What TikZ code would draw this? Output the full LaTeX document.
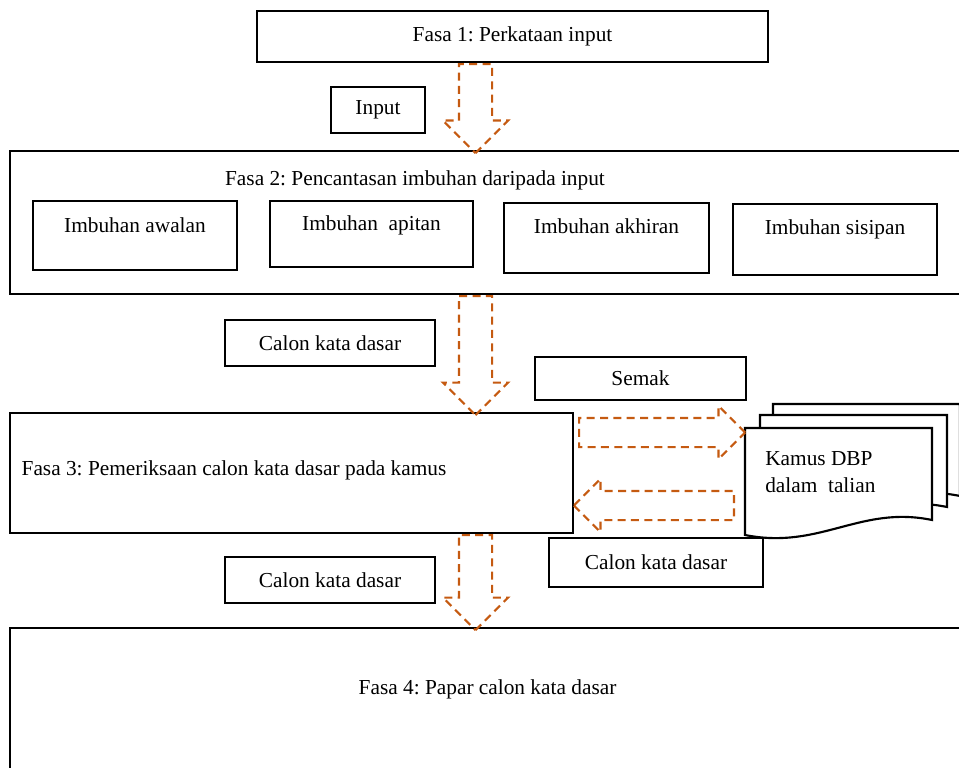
\documentclass[tikz,border=0pt]{standalone}
\usepackage{fontspec}
\setmainfont{Liberation Serif}
\usetikzlibrary{shapes.arrows}
\definecolor{arrorange}{RGB}{197,90,17}
\newcommand{\px}{0.75pt}
\frenchspacing

\begin{document}
\begin{tikzpicture}[x=0.75pt, y=-0.75pt, font=\fontsize{16}{20}\selectfont,
  box/.style={draw=black, line width=1.6pt, inner sep=0pt},
  lbox/.style={draw=black, line width=0.8pt, inner sep=0pt},
  blk/.style={single arrow, anchor=tail, draw=arrorange, line width=1.6pt, dash pattern=on 6pt off 4pt, inner xsep=0pt, single arrow head indent=0pt},
  dn/.style={blk, rotate=-90, minimum height=#1*\px, inner ysep=15.5*\px, single arrow head extend=16*\px},
  hz/.style={blk, minimum height=#1*\px, inner ysep=13.5*\px, single arrow head extend=12*\px}]
\useasboundingbox (0,0) rectangle (959,767);
\node[box, minimum width=511*\px, minimum height=51*\px] (f1) at (512.5,36.5) {Fasa 1: Perkataan input};
\node[lbox, minimum width=94*\px, minimum height=46*\px] (inp) at (378,110) {Input};
\node[box, minimum width=955*\px, minimum height=143*\px] (f2) at (487.5,222.5) {};
\node (f2t) at (415,180) {Fasa 2: Pencantasan imbuhan daripada input};
\foreach \n/\x/\y/\w/\h/\t/\d in {aw/135/235.5/204/69/{Imbuhan awalan}/25,
    ap/371.5/234/203/66/{Imbuhan\ \ apitan}/25,
    ak/606.5/238/205/70/{Imbuhan akhiran}/24,
    si/835/239.5/204/71/{Imbuhan sisipan}/26}
  \node[box, minimum width=\w*\px, minimum height=\h*\px, label={[anchor=center, yshift=-\d*\px]north:\t}] (\n) at (\x,\y) {};
\node[lbox, minimum width=210*\px, minimum height=46*\px] (cal1) at (330,343) {Calon kata dasar};
\node[lbox, minimum width=211*\px, minimum height=43*\px] (semak) at (640.5,378.5) {Semak};
\node[box, minimum width=563*\px, minimum height=120*\px, label={[anchor=west, xshift=8*\px, yshift=3*\px]west:Fasa 3: Pemeriksaan calon kata dasar pada kamus}] (f3) at (291.5,473) {};
\foreach \dx/\dy in {28/-24, 15/-13, 0/0}
  \draw[line width=1.6pt, fill=white, shift={(\dx,\dy)}] (745,428) -- (932,428) -- (932,520) .. controls (860,505) and (820,550) .. (745,535) -- cycle;
\node[anchor=west, align=left, inner sep=0pt] (kamus) at (765,472) {Kamus DBP\\dalam\ \ talian};
\node[lbox, minimum width=210*\px, minimum height=46*\px] (cal2) at (330,580) {Calon kata dasar};
\node[lbox, minimum width=214*\px, minimum height=49*\px] (cal3) at (656,562.5) {Calon kata dasar};
\node[box, minimum width=955*\px, minimum height=172*\px, label={[anchor=center, yshift=-62*\px]north:Fasa 4: Papar calon kata dasar}] (f4) at (487.5,714) {};
\node[dn=89] (a12) at (475.5,0 |- f1.south) {};
\node[dn=119] (a23) at (475.5,0 |- f2.south) {};
\node[dn=95] (a34) at (475.5,0 |- f3.south) {};
\node[hz=166] (tokamus) at (578,432.5) {};
\node[hz=160, rotate=180] (fromkamus) at (735,505.5) {};
\end{tikzpicture}
\end{document}
